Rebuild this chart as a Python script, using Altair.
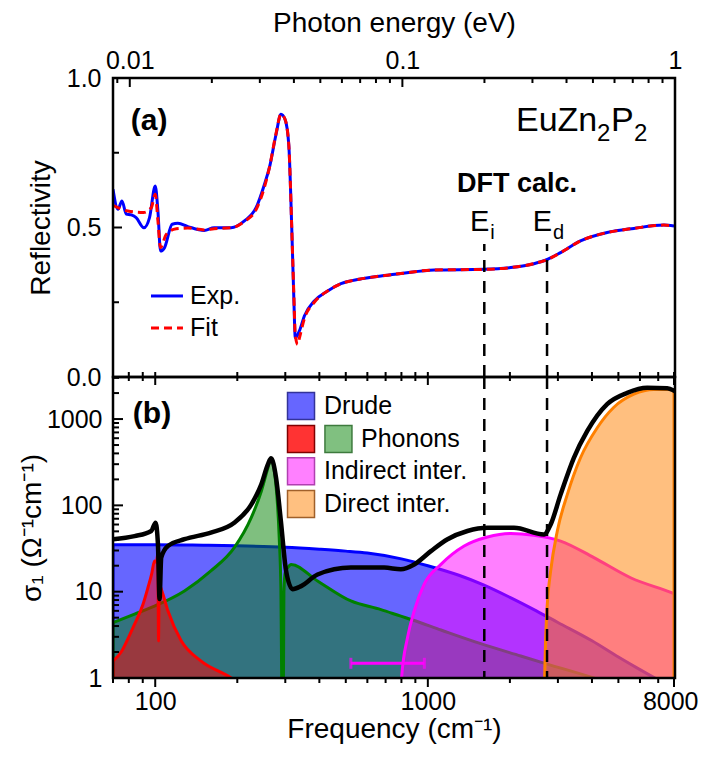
import altair as alt
import pandas as pd

EV_TO_CM = 8065.54          # 1 eV in cm^-1
FONT = "Liberation Sans"
W, H_TOP, H_BOT = 562, 299, 301

# ---------------- panel (a): reflectivity ----------------
R_EXP_FREQ = [70, 73.0, 75.5, 78.3, 81.7, 85.1, 90.9, 95.3, 100.0, 102.3, 104.6, 108.1, 115.4,
              121.1, 131.8, 151.2, 164.4, 189.7, 212.4, 234.4, 251.5, 262.3, 277.5, 289.3,
              299.3, 308.9, 316.8, 322.1, 326.5, 337.9, 352.4, 383.3, 429.1, 479.9, 559.8,
              673, 796, 1055, 1607, 2014, 2449, 2742, 3070, 3631, 4548, 5698, 7337, 8000]
R_EXP = [0.628, 0.561, 0.589, 0.545, 0.542, 0.533, 0.499, 0.533, 0.639, 0.555, 0.421, 0.432,
         0.511, 0.514, 0.503, 0.490, 0.499, 0.499, 0.522, 0.566, 0.644, 0.700, 0.812, 0.879,
         0.862, 0.778, 0.499, 0.277, 0.131, 0.154, 0.204, 0.254, 0.288, 0.312, 0.327, 0.338,
         0.346, 0.358, 0.360, 0.366, 0.379, 0.393, 0.416, 0.455, 0.483, 0.497, 0.508, 0.505]
R_FIT_FREQ = [70, 79.4, 90.6, 96.7, 100.0, 102.3, 104.6, 109.7, 119.4, 131.8, 151.2, 164.4,
              189.7, 212.4, 234.4, 251.5, 262.3, 277.5, 289.3, 299.3, 308.9, 316.8, 322.1,
              326.5, 333.2, 337.9, 352.4, 383.3, 429.1, 479.9, 559.8, 673, 796, 1055, 1607,
              2014, 2449, 2742, 3070, 3631, 4548, 5698, 7337, 8000]
R_FIT = [0.574, 0.555, 0.550, 0.566, 0.611, 0.522, 0.432, 0.477, 0.496, 0.498, 0.492, 0.496,
         0.499, 0.520, 0.560, 0.635, 0.700, 0.815, 0.879, 0.862, 0.778, 0.499, 0.290, 0.140,
         0.109, 0.130, 0.195, 0.250, 0.288, 0.312, 0.327, 0.338, 0.346, 0.358, 0.360, 0.366,
         0.379, 0.393, 0.416, 0.455, 0.483, 0.497, 0.508, 0.505]

# ---------------- panel (b): optical conductivity ----------------
DRUDE_FREQ = [70, 100, 150, 200, 300, 400, 500, 600, 800, 1000, 1300, 1600, 2000, 2500,
              3000, 4000, 5000, 6000, 7000, 8000]
DRUDE = [35, 35, 34.5, 34, 32.7, 31, 29.5, 28, 24, 20, 15.5, 12, 8.6, 6.0, 4.4, 2.7, 1.75,
         1.25, 0.95, 0.75]
PH_LOW_FREQ = [70, 75, 80, 84, 90, 94, 97, 99.4, 101, 102.3, 102.8, 103.5, 106, 111.3, 124.5,
               147.4, 190, 230]
PH_LOW = [1.57, 2.0, 3.0, 4.2, 7.0, 11.1, 16, 22.7, 22, 28, 2.7, 12, 10, 6.0, 2.7, 1.57, 1.0, 0.6]
PH_HIGH_FREQ = [70, 84, 99.4, 128, 160, 195, 225, 245, 259, 266, 273.5, 285, 289, 291, 292, 295,
                296.5, 300, 306, 315, 394, 522, 673, 796, 879, 1117, 1563, 2191, 2742, 4056, 5000]
PH_HIGH = [4.37, 5.5, 6.8, 10.2, 17.4, 32.4, 72, 146, 271, 351, 250, 42, 11, 1.0, 0.5, 0.5, 10,
           17, 19, 20.7, 13.3, 7.8, 6.2, 5.2, 4.7, 3.6, 2.5, 1.8, 1.45, 1.0, 0.8]
IND_FREQ = [790, 801, 842, 891, 969.5, 1117, 1359, 1655, 2014, 2449, 3070, 4066, 5544, 7870, 8066]
IND = [0.5, 1.0, 2.93, 5.97, 12.2, 20.7, 33.8, 43, 47.2, 45, 38.6, 24.8, 14.5, 9.7, 9.4]
DIR_FREQ = [2666, 2705, 2742, 2822, 2985, 3249, 3631, 4183, 4813, 5698, 6745, 7870, 8000]
DIR = [0.5, 2.93, 7.1, 17.4, 50.5, 134, 356, 793, 1370, 1940, 2200, 2200, 2180]
TOT_FREQ = [70, 84, 96.7, 100.3, 102.3, 103.7, 105.2, 111.3, 128, 160, 195, 225, 245, 259, 266,
            277.5, 289, 302, 319, 343, 394, 522, 692, 796, 891, 1026, 1181, 1397, 1655, 2071,
            2666, 2822, 3070, 3433, 3846, 4548, 5386, 6378, 7551, 8066]
TOT = [40.5, 44, 50.5, 63, 35.7, 8.2, 24.8, 33.8, 40.5, 48.4, 63, 102, 175, 298, 351, 209, 66,
       17.4, 10.7, 11.6, 15.8, 19, 19, 18.2, 20.7, 29.5, 40.5, 50.5, 55, 55, 46, 60, 134, 356,
       728, 1488, 2010, 2300, 2270, 2100]
ERR_FREQ = [522, 971]
ERR_SIGMA = 1.48

DFT_FREQ = [1611, 2737]
DFT_SUB = ["i", "d"]

LEGEND_B = ["Drude", "Phonons", "Indirect inter.", "Direct inter."]

# tick values
EV_MAJOR = [0.01, 0.1, 1]
EV_MINOR = [0.009, 0.02, 0.03, 0.04, 0.05, 0.06, 0.07, 0.08, 0.09,
            0.2, 0.3, 0.4, 0.5, 0.6, 0.7, 0.8, 0.9]
F_MAJOR = [100, 1000, 8000]
F_MINOR = [70, 80, 90, 200, 300, 400, 500, 600, 700, 800, 900,
           2000, 3000, 4000, 5000, 6000, 7000]
R_MAJOR = [0, 0.5, 1]
R_MINOR = [0.25, 0.75]
S_MAJOR = [1, 10, 100, 1000]
S_MINOR = [2, 3, 4, 5, 6, 7, 8, 9, 20, 30, 40, 50, 60, 70, 80, 90,
           200, 300, 400, 500, 600, 700, 800, 900, 2000, 3000]

BASE = 0.3   # area baseline, below the visible log range (clipped)

# ---------------- scales / axes ----------------
XS = alt.Scale(type="log", domain=[70, 8066], nice=False)
YS_T = alt.Scale(type="linear", domain=[0, 1], nice=False, zero=False)
YS_B = alt.Scale(type="log", domain=[1, 3070], nice=False)

common = dict(ticks=False, tickSize=0, domain=False, grid=False, labelOverlap=False,
              labelFontSize=25, titleFontSize=28, titleFontWeight="normal",
              labelColor="black", titleColor="black", labelFont=FONT, titleFont=FONT)

AX_TOP = alt.Axis(orient="top", values=[v * EV_TO_CM for v in EV_MAJOR],
                  labelExpr="datum.value < 100 ? '0.01' : (datum.value < 1000 ? '0.1' : '1')",
                  labelFlush=False, labelPadding=5, title="Photon energy (eV)",
                  titlePadding=11, **common)
AY_TOP = alt.Axis(orient="left", values=R_MAJOR, format=".1f", labelPadding=12, labelFlush=False,
                  title="Reflectivity", titlePadding=11, **common)
AX_BOT = alt.Axis(orient="bottom", values=F_MAJOR, format="d", labelPadding=11,
                  labelFlush=5, labelFlushOffset=24,
                  title="Frequency (cm⁻¹)", titlePadding=1, **common)
AY_BOT = alt.Axis(orient="left", values=S_MAJOR, format="d", labelPadding=11, labelFlush=False,
                  title="σ₁ (Ω⁻¹cm⁻¹)", titlePadding=0, **common)

XT = alt.X("f:Q", scale=XS, axis=AX_TOP)
YT = alt.Y("v:Q", scale=YS_T, axis=AY_TOP)
XB = alt.X("f:Q", scale=XS, axis=AX_BOT)
YB = alt.Y("v:Q", scale=YS_B, axis=AY_BOT)


def df(f, v, **extra):
    d = pd.DataFrame({"f": f, "v": v})
    for k, val in extra.items():
        d[k] = val
    return d


def text_layer(data, X, Y, **kw):
    return alt.Chart(data).mark_text(font=FONT, color="black", **kw).encode(x=X, y=Y, text="t:N")


def frame(h):
    return alt.Chart(pd.DataFrame({"a": [0]})).mark_rect(
        fillOpacity=0, stroke="black", strokeWidth=2.5).encode(
        x=alt.value(0), x2=alt.value(W), y=alt.value(0), y2=alt.value(h))


def xticks(values, X, y0, y1):
    return alt.Chart(pd.DataFrame({"f": values})).mark_rule(
        color="black", strokeWidth=2).encode(x=X, y=alt.value(y0), y2=alt.value(y1))


def yticks(values, Y, length):
    return alt.Chart(pd.DataFrame({"v": values})).mark_rule(
        color="black", strokeWidth=2).encode(y=Y, x=alt.value(0), x2=alt.value(length))


# ---------------- top panel ----------------
exp_line = alt.Chart(df(R_EXP_FREQ, R_EXP)).mark_line(
    color="#0000ff", strokeWidth=3, interpolate="monotone", clip=True).encode(x=XT, y=YT)
fit_line = alt.Chart(df(R_FIT_FREQ, R_FIT)).mark_line(
    color="#ff0000", strokeWidth=3, strokeDash=[8, 5], interpolate="monotone",
    clip=True).encode(x=XT, y=YT)

dft_top = alt.Chart(pd.DataFrame({"f": DFT_FREQ, "v": [0, 0], "v2": [0.445, 0.445]})).mark_rule(
    color="black", strokeWidth=2.5, strokeDash=[12, 9]).encode(x=XT, y=YT, y2="v2:Q")

lab_a = text_layer(pd.DataFrame({"f": [94.9], "v": [0.856], "t": ["(a)"]}), XT, YT,
                   fontSize=30, fontWeight="bold", align="center", baseline="middle")
form_anchor = {"f": [2106], "v": [0.823]}
formula = [
    text_layer(pd.DataFrame({**form_anchor, "t": ["EuZn"]}), XT, YT, fontSize=34,
               align="left", baseline="alphabetic", dx=0),
    text_layer(pd.DataFrame({**form_anchor, "t": ["2"]}), XT, YT, fontSize=24,
               align="left", baseline="alphabetic", dx=81, dy=10),
    text_layer(pd.DataFrame({**form_anchor, "t": ["P"]}), XT, YT, fontSize=34,
               align="left", baseline="alphabetic", dx=95),
    text_layer(pd.DataFrame({**form_anchor, "t": ["2"]}), XT, YT, fontSize=24,
               align="left", baseline="alphabetic", dx=118, dy=10),
]
dft_title = text_layer(pd.DataFrame({"f": [2124], "v": [0.645], "t": ["DFT calc."]}), XT, YT,
                       fontSize=27, fontWeight="bold", align="center", baseline="middle")
e_main = text_layer(pd.DataFrame({"f": DFT_FREQ, "v": [0.488, 0.488], "t": ["E", "E"]}), XT, YT,
                    fontSize=29, align="right", baseline="alphabetic", dx=5)
e_sub = text_layer(pd.DataFrame({"f": DFT_FREQ, "v": [0.488, 0.488], "t": DFT_SUB}), XT, YT,
                   fontSize=20, align="left", baseline="alphabetic", dx=6, dy=8)

leg_exp = alt.Chart(df([96.5, 126.4], [0.271, 0.271])).mark_line(
    color="#0000ff", strokeWidth=3).encode(x=XT, y=YT)
leg_fit = alt.Chart(df([96.5, 126.4], [0.164, 0.164])).mark_line(
    color="#ff0000", strokeWidth=3, strokeDash=[8, 5]).encode(x=XT, y=YT)
leg_txt = text_layer(pd.DataFrame({"f": [134.2, 134.2], "v": [0.271, 0.164], "t": ["Exp.", "Fit"]}),
                     XT, YT, fontSize=25, align="left", baseline="middle")

top = alt.layer(
    exp_line, fit_line, dft_top, lab_a, *formula, dft_title, e_main, e_sub,
    leg_exp, leg_fit, leg_txt,
    yticks(R_MAJOR, YT, 9), yticks(R_MINOR, YT, 6),
    xticks([v * EV_TO_CM for v in EV_MAJOR], XT, 0, 9),
    xticks([v * EV_TO_CM for v in EV_MINOR], XT, 0, 5),
    xticks(F_MAJOR + F_MINOR, XT, H_TOP, H_TOP - 5),
    frame(H_TOP),
).properties(width=W, height=H_TOP)


# ---------------- bottom panel ----------------
def component(f, v, color, opacity, left_edge=False, right_edge=False):
    d = df(f, v, b=BASE)
    layers = [
        alt.Chart(d).mark_area(color=color, fillOpacity=opacity, interpolate="monotone",
                               clip=True).encode(x=XB, y=YB, y2="b:Q"),
        alt.Chart(d).mark_line(color=color, strokeWidth=3, interpolate="monotone",
                               clip=True).encode(x=XB, y=YB),
    ]
    edge_rows = []
    if left_edge:
        edge_rows.append(0)
    if right_edge:
        edge_rows.append(len(f) - 1)
    if edge_rows:
        e = d.iloc[edge_rows]
        layers.append(alt.Chart(e).mark_rule(color=color, strokeWidth=3, clip=True).encode(
            x=XB, y=YB, y2="b:Q"))
    return layers


drude = component(DRUDE_FREQ, DRUDE, "#0000ff", 0.6, left_edge=True)
green = component(PH_HIGH_FREQ, PH_HIGH, "#008000", 0.5, left_edge=True)
red = component(PH_LOW_FREQ, PH_LOW, "#ff0000", 0.5, left_edge=True)
ind = component(IND_FREQ, IND, "#ff00ff", 0.5)
dirc = component(DIR_FREQ, DIR, "#ff8000", 0.5, right_edge=True)
total = alt.Chart(df(TOT_FREQ, TOT)).mark_line(
    color="black", strokeWidth=4.5, interpolate="monotone", clip=True).encode(x=XB, y=YB)

err = pd.DataFrame({"f": [ERR_FREQ[0]], "f2": [ERR_FREQ[1]], "v": [ERR_SIGMA]})
err_bar = alt.Chart(err).mark_rule(color="#ff00ff", strokeWidth=3).encode(x=XB, x2="f2:Q", y=YB)
err_caps = alt.Chart(df(ERR_FREQ, [ERR_SIGMA, ERR_SIGMA])).mark_tick(
    color="#ff00ff", orient="vertical", size=11, thickness=3).encode(x=XB, y=YB)

dft_bot = alt.Chart(pd.DataFrame({"f": DFT_FREQ})).mark_rule(
    color="black", strokeWidth=2.5, strokeDash=[12, 9]).encode(
    x=XB, y=alt.value(0), y2=alt.value(H_BOT))

lab_b = text_layer(pd.DataFrame({"f": [97.3], "v": [1146], "t": ["(b)"]}), XB, YB,
                   fontSize=30, fontWeight="bold", align="center", baseline="middle")

boxes = pd.DataFrame({
    "f": [342.6, 342.6, 470, 342.6, 342.6],
    "v": [1419, 588, 588, 248, 104],
    "fill": ["#6666ff", "#ff3333", "#80c080", "#ff80ff", "#ffc080"],
    "stroke": ["#333399", "#800000", "#3d7a3d", "#b040b0", "#a0602a"],
})
leg_boxes = alt.Chart(boxes).mark_square(size=729, filled=True, opacity=1, strokeWidth=1.5).encode(
    x=XB, y=YB, fill=alt.Fill("fill:N", scale=None), stroke=alt.Stroke("stroke:N", scale=None))
leg_b_txt = text_layer(pd.DataFrame({"f": [416, 568.7, 416, 416], "v": [1419, 588, 248, 104],
                                     "t": LEGEND_B}), XB, YB,
                       fontSize=25, align="left", baseline="middle")

bot = alt.layer(
    *drude, *green, *red, *ind, *dirc, total, err_bar, err_caps, dft_bot,
    lab_b, leg_boxes, leg_b_txt,
    yticks(S_MAJOR, YB, 10), yticks(S_MINOR, YB, 6),
    xticks(F_MAJOR, XB, 0, 8), xticks(F_MINOR, XB, 0, 4),
    xticks(F_MAJOR, XB, H_BOT, H_BOT + 9), xticks(F_MINOR, XB, H_BOT, H_BOT + 5),
    frame(H_BOT),
).properties(width=W, height=H_BOT)

chart = alt.vconcat(top, bot, spacing=0, bounds="flush").properties(
    padding={"left": 9, "top": 0, "right": 0, "bottom": 5}
).configure_view(strokeWidth=0).configure(font=FONT)

chart.save("out.html", embed_options={"renderer": "svg", "actions": False})
